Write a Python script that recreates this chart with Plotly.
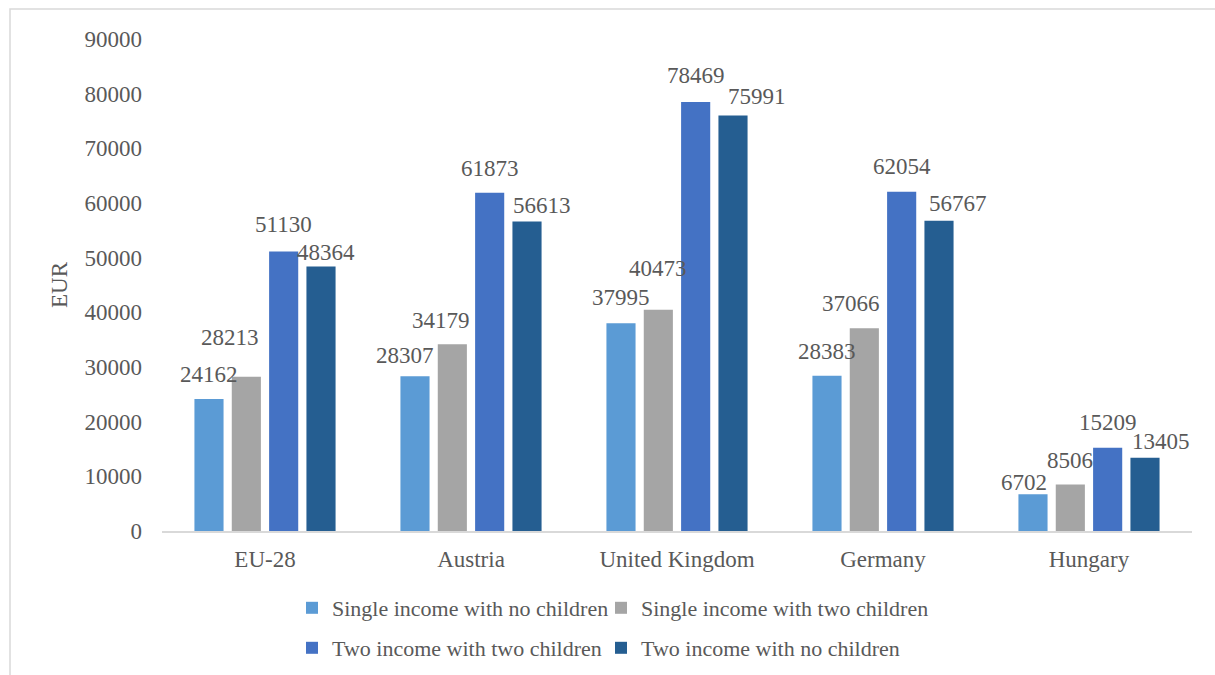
import plotly.graph_objects as go

categories = ["EU-28", "Austria", "United Kingdom", "Germany", "Hungary"]
series_names = [
    "Single income with no children",
    "Single income with two children",
    "Two income with two children",
    "Two income with no children",
]
single_no_children = [24162, 28307, 37995, 28383, 6702]
single_two_children = [28213, 34179, 40473, 37066, 8506]
two_income_two_children = [51130, 61873, 78469, 62054, 15209]
two_income_no_children = [48364, 56613, 75991, 56767, 13405]
series_values = [single_no_children, single_two_children,
                 two_income_two_children, two_income_no_children]
y_ticks = [0, 10000, 20000, 30000, 40000, 50000, 60000, 70000, 80000, 90000]
y_tick_labels = ["0", "10000", "20000", "30000", "40000", "50000",
                 "60000", "70000", "80000", "90000"]

colors = ["#5B9BD5", "#A5A5A5", "#4472C4", "#255E91"]
legend_ids = ["legend", "legend2", "legend3", "legend4"]
# legend entry anchor positions in pixels (left edge, row centre)
legend_px = [(292, 608), (601, 608), (292, 648), (601, 648)]

# label nudges (pixels) reproducing the manual placement of the original labels
label_dx = [[0, -10, 0, 0, -9], [-16, -11, 0, -13, 0], [0, 0, 0, 0, 0], [5, 15, 24, 19, 16]]
label_dy = [[24, 21, 26, 24, 12], [39, 24, 41, 25, 24], [27, 24, 27, 25, 25], [14, 16, 19, 17, 16]]

W, H = 1215, 675
ML, MR, MT, MB = 162, 23, 39, 144
BARGAP, BARGROUPGAP = 0.275, 0.22
FONT = "Liberation Serif"
TXT = "#595959"

fig = go.Figure()
for i, (name, vals) in enumerate(zip(series_names, series_values)):
    fig.add_trace(go.Bar(
        x=categories, y=vals, name=name,
        marker=dict(color=colors[i], line=dict(width=0)),
        legend=legend_ids[i], showlegend=True,
    ))

plot_w = W - ML - MR
plot_h = H - MT - MB
cat_px = plot_w / len(categories)
slot = cat_px * (1 - BARGAP) / len(series_values)
annotations = []
for i, vals in enumerate(series_values):
    off = (i - (len(series_values) - 1) / 2) * slot
    for j, v in enumerate(vals):
        annotations.append(dict(
            x=categories[j], y=v, xref="x", yref="y", text=str(v),
            showarrow=False, xshift=off + label_dx[i][j], yshift=label_dy[i][j],
            yanchor="middle", xanchor="center",
            font=dict(family=FONT, size=23, color=TXT),
        ))

legends = {}
for lid, (px, py) in zip(legend_ids, legend_px):
    legends[lid] = dict(orientation="h", xanchor="left", yanchor="middle",
                        x=(px - ML) / plot_w, y=-(py - (H - MB)) / plot_h,
                        font=dict(family=FONT, size=22, color=TXT),
                        bgcolor="rgba(0,0,0,0)", itemclick=False, itemdoubleclick=False)

fig.update_layout(
    width=W, height=H,
    showlegend=True,
    margin=dict(l=ML, r=MR, t=MT, b=MB, autoexpand=False),
    paper_bgcolor="white", plot_bgcolor="white",
    barmode="group", bargap=BARGAP, bargroupgap=BARGROUPGAP,
    font=dict(family=FONT, size=23, color=TXT),
    annotations=annotations,
    hovermode=False,
    xaxis=dict(showline=True, linecolor="#D9D9D9", linewidth=1.5, ticks="",
               showgrid=False, tickfont=dict(family=FONT, size=23, color=TXT),
               ticklabelstandoff=7),
    yaxis=dict(range=[0, 90000], tickvals=y_ticks, ticktext=y_tick_labels,
               showline=False, showgrid=False,
               zeroline=False, ticks="", tickfont=dict(family=FONT, size=23, color=TXT),
               ticklabelstandoff=19,
               title=dict(text="EUR", font=dict(family=FONT, size=23, color=TXT), standoff=10)),
    shapes=[dict(type="rect", xref="paper", yref="paper",
                 x0=(10 - ML) / plot_w, x1=(W + 10 - ML) / plot_w,
                 y0=-(H + 10 - (H - MB)) / plot_h, y1=1 + (MT - 9) / plot_h,
                 line=dict(color="#D9D9D9", width=1.5), fillcolor="rgba(0,0,0,0)", layer="below")],
    **legends,
)

fig.write_html("out.html", config={"displayModeBar": False},
               post_script="document.body.style.margin='0';")
